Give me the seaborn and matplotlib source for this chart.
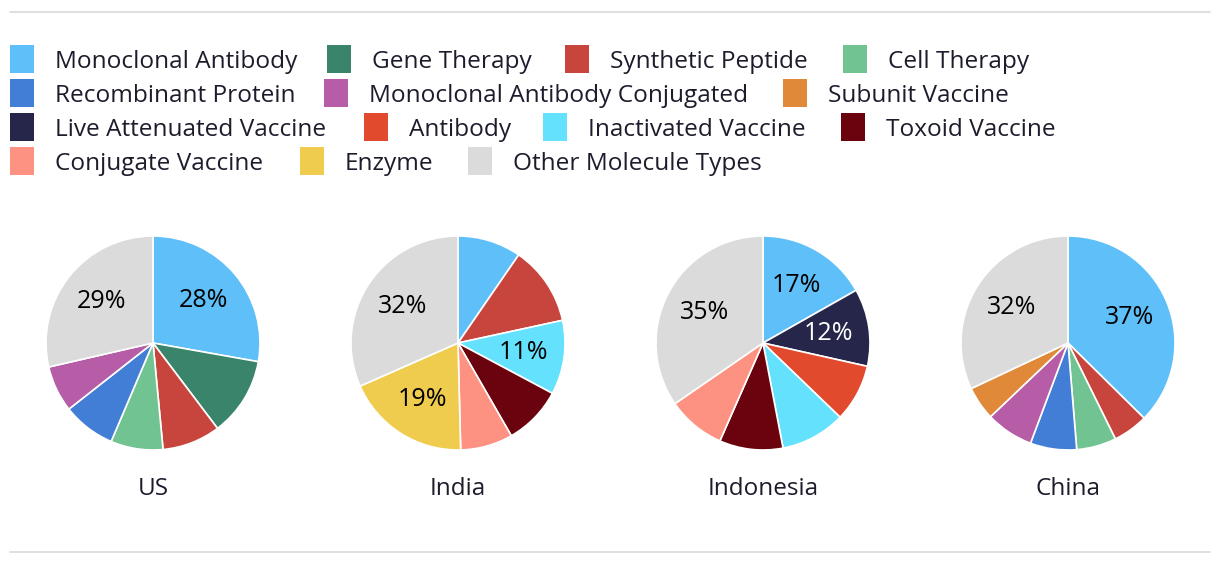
import matplotlib
matplotlib.use("Agg")
import matplotlib.pyplot as plt
from matplotlib.patches import Rectangle
from matplotlib.lines import Line2D
import seaborn as sns

sns.set_theme(style="white")
plt.rcParams['font.family'] = ['Open Sans', 'DejaVu Sans']

# ---- data ----
categories = ["Monoclonal Antibody", "Gene Therapy", "Synthetic Peptide", "Cell Therapy",
              "Recombinant Protein", "Monoclonal Antibody Conjugated", "Subunit Vaccine",
              "Live Attenuated Vaccine", "Antibody", "Inactivated Vaccine", "Toxoid Vaccine",
              "Conjugate Vaccine", "Enzyme", "Other Molecule Types"]
colors = ["#5fbff9", "#39846b", "#c8453d", "#72c392", "#437ed6", "#b75ca6", "#e08a39",
          "#25264a", "#e24a2e", "#64e1fd", "#6a030d", "#fe9282", "#f0cc4e", "#dbdbdb"]

countries = ["US", "India", "Indonesia", "China"]

us_types = ["Monoclonal Antibody", "Gene Therapy", "Synthetic Peptide", "Cell Therapy",
            "Recombinant Protein", "Monoclonal Antibody Conjugated", "Other Molecule Types"]
us_values = [27.8, 11.9, 8.8, 7.9, 8.0, 7.0, 28.6]
us_labelled = ["Monoclonal Antibody", "Other Molecule Types"]

india_types = ["Monoclonal Antibody", "Synthetic Peptide", "Inactivated Vaccine", "Toxoid Vaccine",
               "Conjugate Vaccine", "Enzyme", "Other Molecule Types"]
india_values = [9.6, 12.0, 11.2, 8.9, 7.9, 18.8, 31.6]
india_labelled = ["Inactivated Vaccine", "Enzyme", "Other Molecule Types"]

indonesia_types = ["Monoclonal Antibody", "Live Attenuated Vaccine", "Antibody", "Inactivated Vaccine",
                   "Toxoid Vaccine", "Conjugate Vaccine", "Other Molecule Types"]
indonesia_values = [16.8, 11.7, 8.7, 9.8, 9.6, 8.8, 34.6]
indonesia_labelled = ["Monoclonal Antibody", "Live Attenuated Vaccine", "Other Molecule Types"]

china_types = ["Monoclonal Antibody", "Synthetic Peptide", "Cell Therapy", "Recombinant Protein",
               "Monoclonal Antibody Conjugated", "Subunit Vaccine", "Other Molecule Types"]
china_values = [37.4, 5.3, 6.0, 7.0, 7.2, 5.1, 32.0]
china_labelled = ["Monoclonal Antibody", "Other Molecule Types"]

pies = [(us_types, us_values, us_labelled),
        (india_types, india_values, india_labelled),
        (indonesia_types, indonesia_values, indonesia_labelled),
        (china_types, china_values, china_labelled)]

color_of = dict(zip(categories, colors))
dark = {"Live Attenuated Vaccine", "Toxoid Vaccine", "Gene Therapy"}
text_color = "#1c1c2c"

W, H = 1220, 564
fig = plt.figure(figsize=(W / 100, H / 100), dpi=100)
fig.patch.set_facecolor("white")

def fx(px):
    return px / W

def fy(py):
    return 1 - py / H

# separator lines
for y in (12, 552):
    fig.add_artist(Line2D([fx(10), fx(1210)], [fy(y), fy(y)], color="#d9d9d9", lw=1.2))

# legend (flowing layout)
legend_layout = [
    [(10, "Monoclonal Antibody"), (327, "Gene Therapy"), (565, "Synthetic Peptide"), (843, "Cell Therapy")],
    [(10, "Recombinant Protein"), (324, "Monoclonal Antibody Conjugated"), (783, "Subunit Vaccine")],
    [(10, "Live Attenuated Vaccine"), (364, "Antibody"), (543, "Inactivated Vaccine"), (841, "Toxoid Vaccine")],
    [(10, "Conjugate Vaccine"), (300, "Enzyme"), (468, "Other Molecule Types")],
]
row_y = [59, 93, 127, 161]
for ry, row in zip(row_y, legend_layout):
    for x0, name in row:
        fig.add_artist(Rectangle((fx(x0), fy(ry + 14)), 24 / W, 28 / H,
                                 facecolor=color_of[name], edgecolor="none",
                                 transform=fig.transFigure))
        fig.text(fx(x0 + 45), fy(ry), name, fontsize=17.6, color=text_color,
                 va="center_baseline", ha="left")

# pies
centers_x = [153, 458, 763, 1068]
cy = 343
r = 107
for cx, country, (types, values, labelled) in zip(centers_x, countries, pies):
    ax = fig.add_axes([fx(cx - r), fy(cy + r), 2 * r / W, 2 * r / H])
    wedges, _, autotexts = ax.pie(values, colors=[color_of[t] for t in types],
                                  startangle=90, counterclock=False, radius=1,
                                  autopct=lambda p: f"{round(p)}%", pctdistance=0.62,
                                  wedgeprops=dict(edgecolor="white", linewidth=1.2),
                                  textprops=dict(fontsize=18, color="black"))
    for t, at in zip(types, autotexts):
        if t not in labelled:
            at.set_text("")
        elif t in dark:
            at.set_color("white")
    ax.set_xlim(-1, 1)
    ax.set_ylim(-1, 1)
    ax.set_aspect("equal")
    ax.axis("off")
    fig.text(fx(cx), fy(486), country, fontsize=17.5, color=text_color,
             ha="center", va="center_baseline")

fig.savefig("out.png", dpi=100, facecolor="white")
